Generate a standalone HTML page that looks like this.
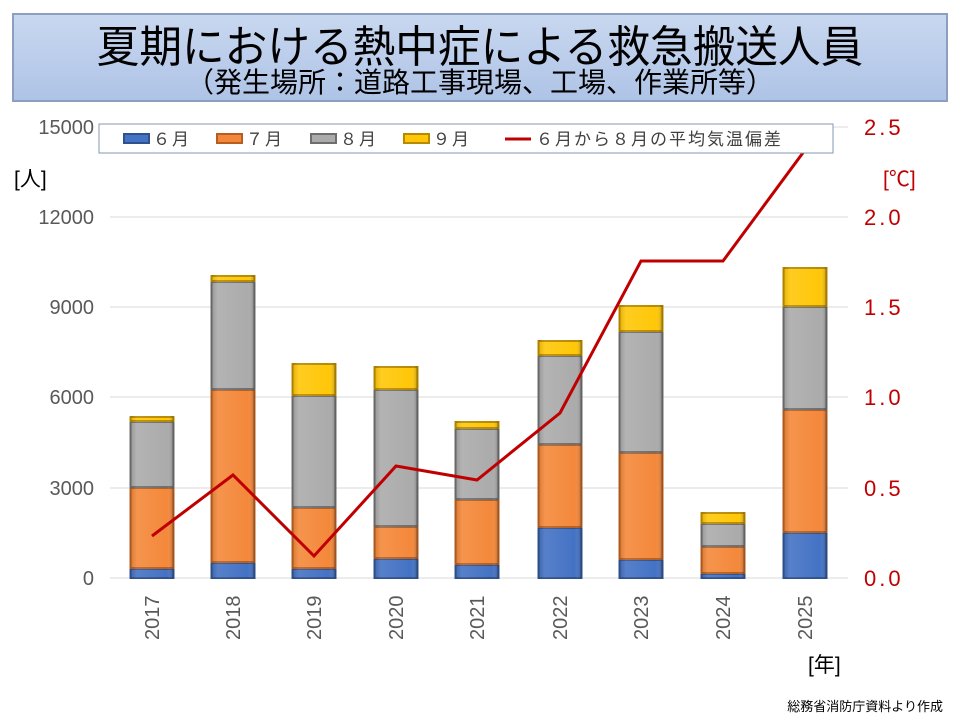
<!DOCTYPE html>
<html><head><meta charset="utf-8"><style>
body{margin:0;width:960px;height:720px;background:#fff;overflow:hidden}
svg{display:block}
.b{fill:#4472c4;stroke:#2f528f;stroke-width:2}
.o{fill:#f4883a;stroke:#b55e20;stroke-width:2}
.g{fill:#ababab;stroke:#6e6e6e;stroke-width:2}
.y{fill:#ffc708;stroke:#b88a00;stroke-width:2}
</style></head><body>
<svg width="960" height="720" viewBox="0 0 960 720" xmlns="http://www.w3.org/2000/svg" font-family="'Liberation Sans','Noto Sans CJK JP',sans-serif">
<defs>
<linearGradient id="tb" x1="0" y1="0" x2="0" y2="1"><stop offset="0" stop-color="#c9d8f0"/><stop offset="1" stop-color="#aec3e6"/></linearGradient>
<linearGradient id="sh" x1="0" y1="0" x2="1" y2="0"><stop offset="0" stop-color="#000" stop-opacity="0.12"/><stop offset="0.15" stop-color="#fff" stop-opacity="0.1"/><stop offset="0.85" stop-color="#fff" stop-opacity="0"/><stop offset="1" stop-color="#000" stop-opacity="0.25"/></linearGradient>
</defs>
<rect x="13" y="14" width="934" height="87" fill="url(#tb)" stroke="#8c9fc0" stroke-width="2"/>
<text x="480" y="62" font-size="44" text-anchor="middle" fill="#000" transform="translate(480 0) scale(0.97 1) translate(-480 0)">夏期における熱中症による救急搬送人員</text>
<text x="480" y="92" font-size="28" text-anchor="middle" fill="#000">（発生場所：道路工事現場、工場、作業所等）</text>
<g stroke="#d9d9d9" stroke-width="1">
<line x1="110" y1="127" x2="848" y2="127"/><line x1="110" y1="217" x2="848" y2="217"/><line x1="110" y1="307" x2="848" y2="307"/><line x1="110" y1="397" x2="848" y2="397"/><line x1="110" y1="488" x2="848" y2="488"/><line x1="110" y1="578" x2="848" y2="578"/>
</g>
<g font-size="20" fill="#595959" text-anchor="end">
<text x="94" y="134">15000</text><text x="94" y="224">12000</text><text x="94" y="314">9000</text><text x="94" y="404">6000</text><text x="94" y="495">3000</text><text x="94" y="585">0</text>
</g>
<g font-size="22" fill="#c00000" letter-spacing="3">
<text x="864" y="135">2.5</text><text x="864" y="225">2.0</text><text x="864" y="315">1.5</text><text x="864" y="405">1.0</text><text x="864" y="496">0.5</text><text x="864" y="586">0.0</text>
</g>
<text x="14" y="186" font-size="21" fill="#000">[人]</text>
<text x="883" y="186" font-size="21" fill="#c00000">[℃]</text>
<text x="808" y="672" font-size="21" fill="#000">[年]</text>
<text x="943" y="711" font-size="13" fill="#000" text-anchor="end">総務省消防庁資料より作成</text>

<g>
<rect class="b" x="130.5" y="569" width="43" height="9"/><rect class="o" x="130.5" y="488" width="43" height="80"/><rect class="g" x="130.5" y="422" width="43" height="65"/><rect class="y" x="130.5" y="417" width="43" height="4"/>
<rect class="b" x="211.5" y="563" width="43" height="15"/><rect class="o" x="211.5" y="390" width="43" height="172"/><rect class="g" x="211.5" y="282" width="43" height="107"/><rect class="y" x="211.5" y="276" width="43" height="5"/>
<rect class="b" x="292.5" y="569" width="43" height="9"/><rect class="o" x="292.5" y="508" width="43" height="60"/><rect class="g" x="292.5" y="396" width="43" height="111"/><rect class="y" x="292.5" y="364" width="43" height="31"/>
<rect class="b" x="374.5" y="559" width="43" height="19"/><rect class="o" x="374.5" y="527" width="43" height="31"/><rect class="g" x="374.5" y="390" width="43" height="136"/><rect class="y" x="374.5" y="367" width="43" height="22"/>
<rect class="b" x="455.5" y="565" width="43" height="13"/><rect class="o" x="455.5" y="500" width="43" height="64"/><rect class="g" x="455.5" y="429" width="43" height="70"/><rect class="y" x="455.5" y="422" width="43" height="6"/>
<rect class="b" x="538.5" y="528" width="43" height="50"/><rect class="o" x="538.5" y="445" width="43" height="82"/><rect class="g" x="538.5" y="356" width="43" height="88"/><rect class="y" x="538.5" y="341" width="43" height="14"/>
<rect class="b" x="619.5" y="560" width="43" height="18"/><rect class="o" x="619.5" y="453" width="43" height="106"/><rect class="g" x="619.5" y="332" width="43" height="120"/><rect class="y" x="619.5" y="306" width="43" height="25"/>
<rect class="b" x="701.5" y="574" width="43" height="4"/><rect class="o" x="701.5" y="547" width="43" height="26"/><rect class="g" x="701.5" y="524" width="43" height="22"/><rect class="y" x="701.5" y="513" width="43" height="10"/>
<rect class="b" x="783.5" y="533" width="43" height="45"/><rect class="o" x="783.5" y="410" width="43" height="122"/><rect class="g" x="783.5" y="307" width="43" height="102"/><rect class="y" x="783.5" y="268" width="43" height="38"/>
</g>
<g fill="url(#sh)">
<rect x="130.5" y="416" width="43" height="162"/><rect x="211.5" y="275" width="43" height="303"/><rect x="292.5" y="363" width="43" height="215"/><rect x="374.5" y="366" width="43" height="212"/><rect x="455.5" y="421" width="43" height="157"/><rect x="538.5" y="340" width="43" height="238"/><rect x="619.5" y="305" width="43" height="273"/><rect x="701.5" y="512" width="43" height="66"/><rect x="783.5" y="267" width="43" height="311"/>
</g>
<g font-size="20" fill="#595959">
<text transform="translate(159 640) rotate(-90)">2017</text>
<text transform="translate(240 640) rotate(-90)">2018</text>
<text transform="translate(321 640) rotate(-90)">2019</text>
<text transform="translate(403 640) rotate(-90)">2020</text>
<text transform="translate(484 640) rotate(-90)">2021</text>
<text transform="translate(567 640) rotate(-90)">2022</text>
<text transform="translate(648 640) rotate(-90)">2023</text>
<text transform="translate(730 640) rotate(-90)">2024</text>
<text transform="translate(812 640) rotate(-90)">2025</text>
</g>
<polyline points="152,536 233,475 314,556 396,466 477,480 560,413 641,261 723,261 805,150" fill="none" stroke="#c00000" stroke-width="3"/>
<rect x="99" y="124" width="734" height="29" fill="#fff" stroke="#8497b0" stroke-width="1"/>
<g font-size="17" fill="#404040" letter-spacing="2">
<rect x="124" y="134" width="25" height="9" class="b" stroke-width="1"/><text x="153" y="145">６月</text>
<rect x="217" y="134" width="25" height="9" class="o" stroke-width="1"/><text x="246" y="145">７月</text>
<rect x="311" y="134" width="25" height="9" class="g" stroke-width="1"/><text x="340" y="145">８月</text>
<rect x="404" y="134" width="25" height="9" class="y" stroke-width="1"/><text x="433" y="145">９月</text>
<line x1="505" y1="139" x2="531" y2="139" stroke="#c00000" stroke-width="3"/><text x="536" y="145">６月から８月の平均気温偏差</text>
</g>
</svg>
</body></html>
